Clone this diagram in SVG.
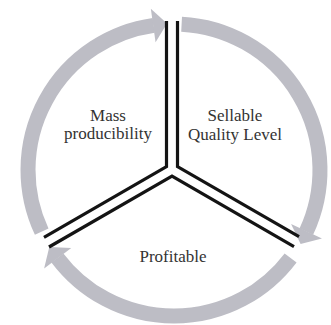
<svg xmlns="http://www.w3.org/2000/svg" width="331" height="325" viewBox="0 0 331 325">
<style>
.ring{fill:none;stroke:#bdbdc5;stroke-width:15;stroke-linecap:butt}
.div{fill:none;stroke:#141414;stroke-width:3.2;stroke-linejoin:miter}
.lbl{font-size:17px;fill:#333;text-anchor:middle}
</style>
<defs>
<marker id="ah" markerUnits="userSpaceOnUse" orient="auto" markerWidth="14" markerHeight="34" viewBox="0 0 14 34" refX="0.5" refY="17" overflow="visible">
<path d="M0,0 L14,17 L0,34 Z" fill="#bdbdc5"/>
</marker>
</defs>
<rect width="331" height="325" fill="#fff"/>
<g id="connectors">
<path class="ring" d="M41.7,231.7 A146,146 0 0 1 153.7,25.4" marker-end="url(#ah)"/>
<path class="ring" d="M181.6,24.2 A146,146 0 0 1 306.3,231.7" marker-end="url(#ah)"/>
<path class="ring" d="M290.6,257.9 A146,146 0 0 1 57.4,257.9" marker-end="url(#ah)"/>
<polyline class="div" points="166.5,21 166.5,166.6 44,237.3"/>
<polyline class="div" points="177.5,21 177.5,166.6 299,236.7"/>
<polyline class="div" points="49,247 172,176.2 294,246.6"/>
</g>
<g font-family="'Liberation Serif', 'DejaVu Serif', serif">
<g id="mass"><text class="lbl" x="108" y="121">Mass</text><text class="lbl" x="108" y="139">producibility</text></g>
<g id="quality"><text class="lbl" x="235" y="121">Sellable</text><text class="lbl" x="235" y="140">Quality Level</text></g>
<g id="profitable"><text class="lbl" x="173" y="262">Profitable</text></g>
</g>
</svg>
